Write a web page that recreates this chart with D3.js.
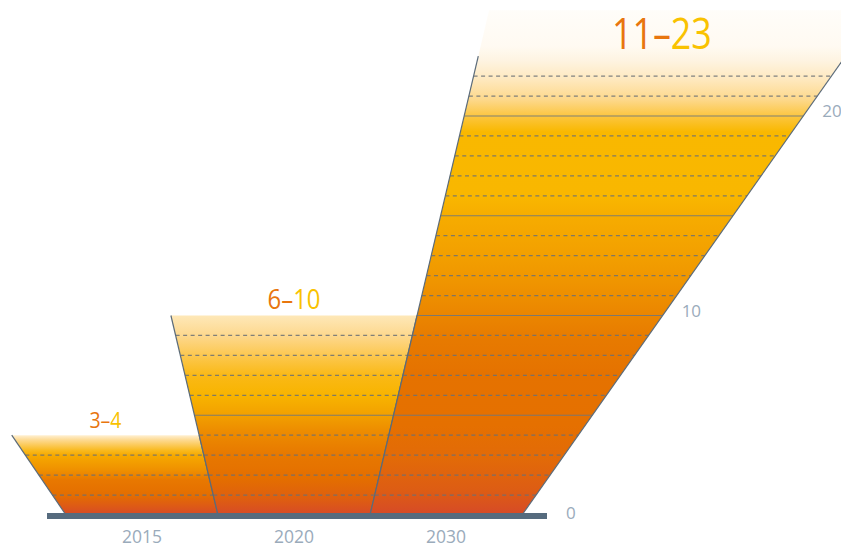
<!DOCTYPE html>
<html><head><meta charset="utf-8">
<script src="https://cdn.jsdelivr.net/npm/d3@7"></script>
<style>
html,body{margin:0;padding:0;background:#fff;}
svg{display:block;font-family:"Open Sans","Noto Sans",sans-serif;}
</style></head>
<body>
<svg id="chart" width="841" height="548"></svg>
<script>
// ---- data ----
const categories = ["2015", "2020", "2030"];
const lowValues  = [3, 6, 11];
const highValues = [4, 10, 23];
const yTicks     = [0, 10, 20];

// ---- style / geometry (not data) ----
const leftLean  = [-0.68, -0.236, 0.236];   // dx per px of height
const rightLean = [-0.236, 0.236, 0.705];
const fadeExtra = [0, 0, 2.3];              // extra faded fill above top (value units)
const labelSize = [22, 27, 44];
const labelLen  = [32, 53, 100];
const gradStops = [
  [[0,"#d64a28"],[0.5,"#de5c14"],[1,"#e46e00"],[1.75,"#e87800"],[2.25,"#ef9000"],[3,"#f6aa00"],[3.25,"#f9ba20"],[3.75,"#fdd98f"],[4,"#fff0d2"]],
  [[0,"#d64a28"],[0.8,"#de5e10"],[1.8,"#e46e00"],[3,"#e77800"],[4.2,"#ed8c00"],[5,"#f2a000"],[6,"#f8b400"],[7,"#fab916"],[8,"#fcc850"],[9,"#fdd88e"],[10,"#fee8b8"]],
  [[0,"#d64a28"],[1.2,"#dd5c14"],[2.8,"#e26a08"],[4.5,"#e57000"],[7,"#e57200"],[8.8,"#e77a00"],[10.8,"#ed8d00"],[12.8,"#f29e00"],[14.8,"#f6ab00"],[16,"#f9b700"],[19.2,"#f9b800"],[20,"#fcc640"],[20.8,"#fdd88a"],[21.8,"#fee8bd"],[22.8,"#fef4e2"],[23.5,"#fffaf2"],[25.3,"#fffdf9"]]
];
const orange = "#e8760e", yellow = "#f9c200", axisGrey = "#9aabbb";

const svg = d3.select("#chart");
const y = d3.scaleLinear().domain([0, 25]).range([515, 515 - 25 * 19.95]);
const x = d3.scaleBand().domain(categories).range([66, 522]).padding(0);
const bw = x.bandwidth();
const h = v => y(0) - y(v);
const leftX  = (i, v) => x(categories[i]) + leftLean[i] * h(v);
const rightX = (i, v) => x(categories[i]) + bw + rightLean[i] * h(v);

const defs = svg.append("defs");

categories.forEach((c, i) => {
  const top = highValues[i] + fadeExtra[i];
  const g = defs.append("linearGradient").attr("id", "grad" + i)
    .attr("gradientUnits", "userSpaceOnUse")
    .attr("x1", 0).attr("x2", 0).attr("y1", y(0)).attr("y2", y(top));
  gradStops[i].forEach(s => g.append("stop").attr("offset", s[0] / top).attr("stop-color", s[1]));

  const grp = svg.append("g");
  const pts = [[leftX(i, 0), y(0)], [rightX(i, 0), y(0)], [rightX(i, top), y(top)], [leftX(i, top), y(top)]];
  grp.append("path").attr("d", d3.line()(pts) + "Z").attr("fill", `url(#grad${i})`);

  // horizontal unit lines
  const levels = d3.range(1, Math.ceil(highValues[i]));
  grp.selectAll("line.lvl").data(levels).join("line")
    .attr("x1", v => leftX(i, v)).attr("x2", v => rightX(i, v))
    .attr("y1", v => y(v)).attr("y2", v => y(v))
    .attr("stroke", v => v % 5 === 0 ? "#6b7580" : "#6a7076")
    .attr("stroke-opacity", v => v % 5 === 0 ? 0.85 : 0.85)
    .attr("stroke-width", v => v % 5 === 0 ? 1.2 : 1.2)
    .attr("stroke-dasharray", v => v % 5 === 0 ? null : "4,3.5");

  // slanted edges
  const hi = highValues[i];
  grp.append("line").attr("x1", leftX(i, 0)).attr("y1", y(0)).attr("x2", leftX(i, hi)).attr("y2", y(hi))
    .attr("stroke", "#5b6b7a").attr("stroke-width", 1.2);
  grp.append("line").attr("x1", rightX(i, 0)).attr("y1", y(0)).attr("x2", rightX(i, hi)).attr("y2", y(hi))
    .attr("stroke", "#5b6b7a").attr("stroke-width", 1.2);
});

// baseline bar
const barX0 = x(categories[0]) - 19, barX1 = x(categories[categories.length - 1]) + bw + 25;
svg.append("rect").attr("x", barX0).attr("y", y(0) - 2).attr("width", barX1 - barX0).attr("height", 6)
  .attr("fill", "#566b7e");

// range labels
categories.forEach((c, i) => {
  const hi = highValues[i];
  const cx = (leftX(i, hi) + rightX(i, hi)) / 2;
  const t = svg.append("text").attr("x", cx).attr("y", y(hi) - 7)
    .attr("text-anchor", "middle").attr("font-size", labelSize[i])
    .attr("textLength", labelLen[i]).attr("lengthAdjust", "spacingAndGlyphs");
  t.append("tspan").attr("fill", orange).text(lowValues[i] + "–");
  t.append("tspan").attr("fill", yellow).text(hi);
});

// category labels
svg.selectAll("text.cat").data(categories).join("text").attr("class", "cat")
  .attr("x", d => x(d) + bw / 2).attr("y", y(0) + 28)
  .attr("text-anchor", "middle").attr("font-size", 17.5).attr("fill", axisGrey).text(d => d);

// value ticks along the slanted edge
const last = categories.length - 1;
svg.selectAll("text.tick").data(yTicks).join("text").attr("class", "tick")
  .attr("x", v => Math.max(rightX(last, v) + 19, barX1 + 19))
  .attr("y", v => y(v) + (v === 0 ? 4 : 1))
  .attr("font-size", 17).attr("fill", axisGrey).text(v => v);
</script>
</body></html>
